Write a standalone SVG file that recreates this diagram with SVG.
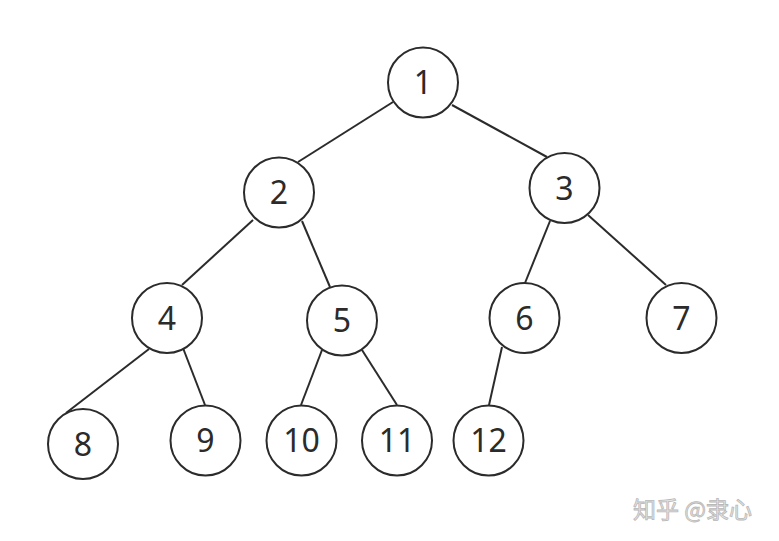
<svg xmlns="http://www.w3.org/2000/svg" width="779" height="541" viewBox="0 0 779 541">
<style>
.n circle{fill:#fff;stroke:#2b2b2b;stroke-width:2}
.n text{font-family:"Noto Sans","Open Sans","DejaVu Sans",sans-serif;font-size:32px;fill:#2b2b2b;text-anchor:middle}
#edges line{stroke:#2b2b2b;stroke-width:2}
.wm{font-family:"Noto Sans CJK SC","Noto Sans",sans-serif;font-size:23px;fill:#e6e6e6;stroke:#b8b8b8;stroke-width:0.8}
</style>
<rect width="779" height="541" fill="#fff"/>
<g id="edges">
<line x1="393" y1="102" x2="298" y2="162"/>
<line x1="452" y1="105" x2="547" y2="157"/>
<line x1="253" y1="220" x2="182" y2="285"/>
<line x1="302" y1="221" x2="330" y2="287"/>
<line x1="550" y1="221" x2="525" y2="283"/>
<line x1="588" y1="215" x2="666" y2="285"/>
<line x1="149" y1="349" x2="66" y2="413"/>
<line x1="183" y1="348" x2="205" y2="405"/>
<line x1="322" y1="350" x2="301" y2="405"/>
<line x1="362" y1="350" x2="397" y2="405"/>
<line x1="502" y1="347" x2="489" y2="405"/>
</g>
<g id="n1" class="n"><circle cx="423" cy="82.5" r="35"/><text x="423" y="94">1</text></g>
<g id="n2" class="n"><circle cx="279" cy="192.5" r="35"/><text x="279" y="204">2</text></g>
<g id="n3" class="n"><circle cx="564.5" cy="188" r="35"/><text x="564.5" y="199.5">3</text></g>
<g id="n4" class="n"><circle cx="167" cy="318" r="35"/><text x="167" y="329.5">4</text></g>
<g id="n5" class="n"><circle cx="342" cy="320.5" r="35"/><text x="342" y="332">5</text></g>
<g id="n6" class="n"><circle cx="524.5" cy="318" r="35"/><text x="524.5" y="329.5">6</text></g>
<g id="n7" class="n"><circle cx="681.5" cy="318" r="35"/><text x="681.5" y="329.5">7</text></g>
<g id="n8" class="n"><circle cx="83" cy="444" r="35"/><text x="83" y="455.5">8</text></g>
<g id="n9" class="n"><circle cx="205.5" cy="440.5" r="35"/><text x="205.5" y="452">9</text></g>
<g id="n10" class="n"><circle cx="301.5" cy="440.5" r="35"/><text x="301.5" y="452">10</text></g>
<g id="n11" class="n"><circle cx="397" cy="440.5" r="35"/><text x="397" y="452">11</text></g>
<g id="n12" class="n"><circle cx="488.5" cy="440.5" r="35"/><text x="488.5" y="452">12</text></g>
<text class="wm" x="633" y="518">知乎 @隶心</text>
</svg>
